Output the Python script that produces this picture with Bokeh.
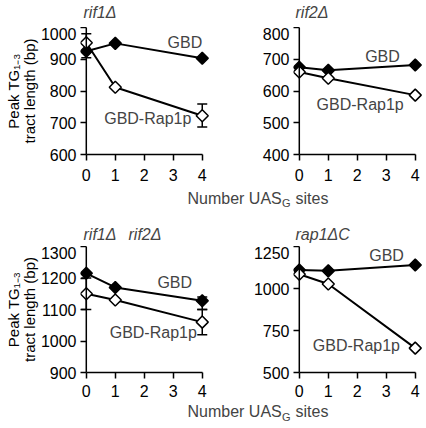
import math
from bokeh.plotting import figure
from bokeh.models import (ColumnDataSource, Whisker, TeeHead, Label, Span,
                          FixedTicker, Range1d)
from bokeh.layouts import column, row
from bokeh.embed import file_html
from bokeh.resources import INLINE

# ---------------- data ----------------
sites = [0, 1, 4]
x_ticks = [0, 1, 2, 3, 4]

rif1_gbd = [925, 950, 903]
rif1_rap = [952, 812, 722]
rif1_err_x = [0, 4]
rif1_err_lo = [905, 687]
rif1_err_hi = [980, 759]
rif1_yticks = [600, 700, 800, 900, 1000]

rif2_gbd = [675, 665, 682]
rif2_rap = [660, 640, 587]
rif2_err_x = []
rif2_err_lo = []
rif2_err_hi = []
rif2_yticks = [400, 500, 600, 700, 800]

rif12_gbd = [1215, 1170, 1128]
rif12_rap = [1150, 1130, 1060]
rif12_err_x = [0, 4, 4]
rif12_err_lo = [1100, 1100, 1020]
rif12_err_hi = [1200, 1140, 1100]
rif12_yticks = [900, 1000, 1100, 1200, 1300]

rap1_gbd = [1110, 1105, 1140]
rap1_rap = [1085, 1027, 645]
rap1_err_x = []
rap1_err_lo = []
rap1_err_hi = []
rap1_yticks = [500, 750, 1000, 1250]

series_names = ["GBD", "GBD-Rap1p"]
panel_titles_top = ["rif1Δ", "rif2Δ"]
panel_titles_bottom = ["rif1Δ", "rif2Δ", "rap1ΔC"]
x_title = ["Number UAS", "G", "sites"]
y_title = "Peak TG\u2081\u208b\u2083\ntract length (bp)"

FONT = "Liberation Sans"
FS = "16px"


def make_strip(width, height):
    p = figure(width=width, height=height, output_backend="svg",
               toolbar_location=None, x_range=(0, 1), y_range=(0, 1),
               min_border=0)
    p.xaxis.visible = False
    p.yaxis.visible = False
    p.grid.visible = False
    p.outline_line_color = None
    return p


def make_panel(width, height, bl, bb, yticks, gbd, rap, ex, elo, ehi,
               gbd_pos, rap_pos, standoff, ylabel=None):
    p = figure(width=width, height=height, output_backend="svg",
               toolbar_location=None,
               x_range=Range1d(-0.2, 4.25),
               y_range=Range1d(yticks[0], yticks[-1]),
               min_border_left=bl, min_border_right=4,
               min_border_top=0, min_border_bottom=bb)
    p.outline_line_color = None
    p.grid.visible = False

    # x axis
    xa = p.xaxis[0]
    xa.ticker = FixedTicker(ticks=x_ticks)
    xa.bounds = (0, 4)
    xa.major_tick_out = 6
    xa.major_tick_in = 0
    xa.minor_tick_line_color = None
    xa.axis_line_width = 1.5
    xa.major_tick_line_width = 1.5
    xa.major_label_text_font = FONT
    xa.major_label_text_font_size = FS
    xa.major_label_text_color = "black"
    xa.major_label_standoff = standoff

    # y axis (its line is drawn as a span at x = 0)
    ya = p.yaxis[0]
    ya.ticker = FixedTicker(ticks=yticks)
    ya.axis_line_color = None
    ya.major_tick_in = 6
    ya.major_tick_out = 0
    ya.minor_tick_line_color = None
    ya.major_tick_line_width = 1.5
    ya.major_label_text_font = FONT
    ya.major_label_text_font_size = FS
    ya.major_label_text_color = "black"
    ya.major_label_standoff = 4
    if ylabel:
        ya.axis_label = ylabel
        ya.axis_label_text_font = FONT
        ya.axis_label_text_font_size = "15px"
        ya.axis_label_text_font_style = "normal"
        ya.axis_label_text_color = "black"
        ya.axis_label_standoff = 0
        ya.axis_label_text_line_height = 0.95
    p.add_layout(Span(location=0, dimension="height", line_color="black",
                      line_width=1.5))

    # error bars
    if ex:
        esrc = ColumnDataSource(dict(x=ex, lo=elo, hi=ehi))
        p.add_layout(Whisker(base="x", lower="lo", upper="hi", source=esrc,
                             line_width=1.5, line_color="black",
                             lower_head=TeeHead(size=10, line_width=1.5),
                             upper_head=TeeHead(size=10, line_width=1.5)))

    # series
    p.line(sites, gbd, line_color="black", line_width=2)
    p.line(sites, rap, line_color="black", line_width=2)
    p.scatter(sites, gbd, marker="square", angle=math.pi / 4, size=8.5,
              fill_color="black", line_color="black", line_width=1.5)
    p.scatter(sites, rap, marker="square", angle=math.pi / 4, size=8.5,
              fill_color="white", line_color="black", line_width=1.5)

    p.add_layout(Label(x=gbd_pos[0], y=gbd_pos[1], text=series_names[0],
                       text_font=FONT, text_font_size=FS,
                       text_align="center", text_baseline="middle"))
    p.add_layout(Label(x=rap_pos[0], y=rap_pos[1], text=series_names[1],
                       text_font=FONT, text_font_size=FS,
                       text_align="center", text_baseline="middle"))
    return p


def make_title_strip(height, ymid, items):
    p = make_strip(426, height)
    for (tx, tt) in items:
        p.add_layout(Label(x=tx, y=ymid, x_units="screen", y_units="screen",
                           text=tt, text_font=FONT, text_font_size=FS,
                           text_font_style="italic", text_align="left",
                           text_baseline="middle"))
    return p


def make_xlabel(height, ymid):
    p = make_strip(426, height)
    x0 = 187
    p.add_layout(Label(x=x0, y=ymid, x_units="screen", y_units="screen",
                       text=x_title[0], text_font=FONT, text_font_size=FS,
                       text_align="left", text_baseline="middle"))
    p.add_layout(Label(x=x0 + 94.5, y=ymid - 5, x_units="screen",
                       y_units="screen", text=x_title[1], text_font=FONT,
                       text_font_size="11px", text_align="left",
                       text_baseline="middle"))
    p.add_layout(Label(x=x0 + 108, y=ymid, x_units="screen",
                       y_units="screen", text=x_title[2], text_font=FONT,
                       text_font_size=FS, text_align="left",
                       text_baseline="middle"))
    return p


T1 = make_title_strip(27, 15, [(83, panel_titles_top[0]),
                               (295, panel_titles_top[1])])
p1 = make_panel(213, 161, 80, 34, rif1_yticks, rif1_gbd, rif1_rap,
                rif1_err_x, rif1_err_lo, rif1_err_hi,
                (3.4, 952), (2.12, 712), 8, ylabel=y_title)
p2 = make_panel(213, 161, 80, 34, rif2_yticks, rif2_gbd, rif2_rap,
                rif2_err_x, rif2_err_lo, rif2_err_hi,
                (2.87, 710), (2.1, 558), 8)
L1 = make_xlabel(26, 16.5)

T2 = make_title_strip(32, 12, [(83, panel_titles_bottom[0]),
                               (128, panel_titles_bottom[1]),
                               (295, panel_titles_bottom[2])])
p3 = make_panel(213, 158, 80, 32, rif12_yticks, rif12_gbd, rif12_rap,
                rif12_err_x, rif12_err_lo, rif12_err_hi,
                (3.05, 1187), (2.31, 1028), 6, ylabel=y_title)
p4 = make_panel(213, 158, 80, 32, rap1_yticks, rap1_gbd, rap1_rap,
                rap1_err_x, rap1_err_lo, rap1_err_hi,
                (3.01, 1198), (1.97, 662), 6)
L2 = make_xlabel(24, 17)

layout = column(T1, row(p1, p2), L1, T2, row(p3, p4), L2)

open("out.html", "w").write(file_html(layout, INLINE))
